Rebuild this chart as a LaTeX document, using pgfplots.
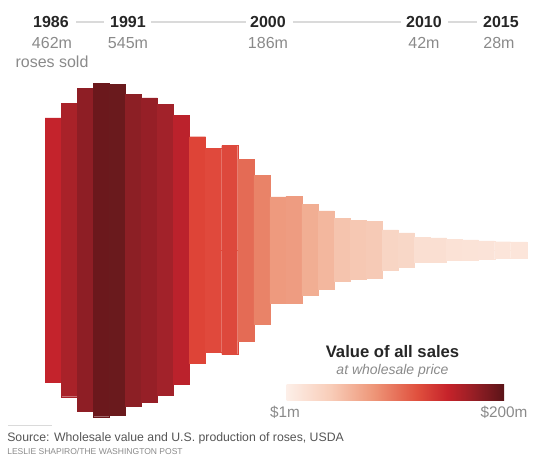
\documentclass[border=0pt]{standalone}
\usepackage{pgfplots}
\pgfplotsset{compat=1.18}
\usepackage{fontspec}
\setmainfont{Liberation Sans}
\definecolor{b0}{HTML}{C4232C}
\definecolor{b1}{HTML}{A92229}
\definecolor{b2}{HTML}{8E1E25}
\definecolor{b3}{HTML}{6B181C}
\definecolor{b4}{HTML}{6A1A1D}
\definecolor{b5}{HTML}{8C1F25}
\definecolor{b6}{HTML}{961F27}
\definecolor{b7}{HTML}{A2222A}
\definecolor{b8}{HTML}{BB222C}
\definecolor{b9}{HTML}{DE4437}
\definecolor{b10}{HTML}{E0493C}
\definecolor{b11}{HTML}{DD483C}
\definecolor{b12}{HTML}{E46B55}
\definecolor{b13}{HTML}{E98368}
\definecolor{b14}{HTML}{EE9A7E}
\definecolor{b15}{HTML}{EE9C81}
\definecolor{b16}{HTML}{F1AE93}
\definecolor{b17}{HTML}{F3B79E}
\definecolor{b18}{HTML}{F5C4AE}
\definecolor{b19}{HTML}{F6C8B3}
\definecolor{b20}{HTML}{F6CAB6}
\definecolor{b21}{HTML}{F8D5C4}
\definecolor{b22}{HTML}{F8D7C7}
\definecolor{b23}{HTML}{FADFD2}
\definecolor{b24}{HTML}{FADFD2}
\definecolor{b25}{HTML}{FBE2D6}
\definecolor{b26}{HTML}{FBE3D7}
\definecolor{b27}{HTML}{FBE3D8}
\definecolor{b28}{HTML}{FCE5DA}
\definecolor{b29}{HTML}{FCE5DA}
\definecolor{ydark}{HTML}{262626}
\definecolor{vgray}{HTML}{8A8A8A}
\definecolor{lgray}{HTML}{DADADA}
\definecolor{sgray}{HTML}{555555}
\pgfdeclarehorizontalshading{roseshade}{100bp}{rgb(0bp)=(0.992,0.937,0.910); rgb(25bp)=(0.992,0.937,0.910); rgb(35bp)=(0.973,0.804,0.725); rgb(45bp)=(0.933,0.588,0.471); rgb(55bp)=(0.878,0.314,0.243); rgb(62bp)=(0.776,0.137,0.165); rgb(68bp)=(0.588,0.118,0.145); rgb(75bp)=(0.353,0.078,0.094); rgb(100bp)=(0.353,0.078,0.094)}
\begin{document}
\begin{tikzpicture}
\path[use as bounding box] (0,0) rectangle (405pt,342pt);
\begin{axis}[at={(0,0)}, anchor=south west, scale only axis,
  width=405pt, height=342pt,
  xmin=1982.698, xmax=2016.322, ymin=-360.1, ymax=437,
  hide axis, clip=false,
  rb/.style={ybar, bar width=1, bar shift=0pt, fill=#1, draw=#1, line width=0.2pt}]
\addplot[rb=b0]  coordinates {(1986,231) (1986,-231)};
\addplot[rb=b1]  coordinates {(1987,256.5) (1987,-256.5)};
\addplot[rb=b2]  coordinates {(1988,282.5) (1988,-282.5)};
\addplot[rb=b3]  coordinates {(1989,291.5) (1989,-291.5)};
\addplot[rb=b4]  coordinates {(1990,289.5) (1990,-289.5)};
\addplot[rb=b5]  coordinates {(1991,272.5) (1991,-272.5)};
\addplot[rb=b6]  coordinates {(1992,266) (1992,-266)};
\addplot[rb=b7]  coordinates {(1993,254.5) (1993,-254.5)};
\addplot[rb=b8]  coordinates {(1994,235) (1994,-235)};
\addplot[rb=b9]  coordinates {(1995,198) (1995,-198)};
\addplot[rb=b10] coordinates {(1996,178) (1996,-178)};
\addplot[rb=b11] coordinates {(1997,182.5) (1997,-182.5)};
\addplot[rb=b12] coordinates {(1998,159) (1998,-159)};
\addplot[rb=b13] coordinates {(1999,130) (1999,-130)};
\addplot[rb=b14] coordinates {(2000,93) (2000,-93)};
\addplot[rb=b15] coordinates {(2001,93.5) (2001,-93.5)};
\addplot[rb=b16] coordinates {(2002,79.5) (2002,-79.5)};
\addplot[rb=b17] coordinates {(2003,68.5) (2003,-68.5)};
\addplot[rb=b18] coordinates {(2004,55) (2004,-55)};
\addplot[rb=b19] coordinates {(2005,51.5) (2005,-51.5)};
\addplot[rb=b20] coordinates {(2006,50) (2006,-50)};
\addplot[rb=b21] coordinates {(2007,35) (2007,-35)};
\addplot[rb=b22] coordinates {(2008,30) (2008,-30)};
\addplot[rb=b23] coordinates {(2009,22) (2009,-22)};
\addplot[rb=b24] coordinates {(2010,21) (2010,-21)};
\addplot[rb=b25] coordinates {(2011,18.5) (2011,-18.5)};
\addplot[rb=b26] coordinates {(2012,17.5) (2012,-17.5)};
\addplot[rb=b27] coordinates {(2013,16) (2013,-16)};
\addplot[rb=b28] coordinates {(2014,14.5) (2014,-14.5)};
\addplot[rb=b29] coordinates {(2015,14) (2015,-14)};
\end{axis}
\begin{scope}[x=0.75pt, y=-0.75pt, shift={(0pt,342pt)}]
% connector lines
\draw[lgray, line width=0.8pt] (76,22) -- (104,22);
\draw[lgray, line width=0.8pt] (151,22) -- (246,22);
\draw[lgray, line width=0.8pt] (293,22) -- (401,22);
\draw[lgray, line width=0.8pt] (448,22) -- (477,22);
% years
\begin{scope}[every node/.style={font=\fontsize{12}{14}\selectfont\bfseries, text=ydark, inner sep=0}]
\node at (51,22) {1986};
\node at (128,22) {1991};
\node at (268,22) {2000};
\node at (424,22) {2010};
\node at (501,22) {2015};
\end{scope}
\begin{scope}[every node/.style={font=\fontsize{12}{14}\selectfont, text=vgray, inner sep=0}]
\node at (52,43) {462m};
\node at (128,43) {545m};
\node at (268,43) {186m};
\node at (424,43) {42m};
\node at (499,43) {28m};
\node at (52,62) {roses sold};
\end{scope}
% legend
\node[font=\fontsize{12.5}{14}\selectfont\bfseries, text=ydark, inner sep=0] at (392.5,352) {Value of all sales};
\node[font=\fontsize{10.5}{12}\selectfont\itshape, text=vgray, inner sep=0] at (392.5,371) {at wholesale price};
\shade[shading=roseshade] (286.7,385) rectangle (504,400.7);
\node[font=\fontsize{11.5}{13}\selectfont, text=vgray, inner sep=0] at (285,412) {\$1m};
\node[font=\fontsize{11.5}{13}\selectfont, text=vgray, inner sep=0] at (504,412) {\$200m};
% source
\draw[lgray, line width=0.8pt] (8,425.7) -- (52,425.7);
\node[anchor=west, font=\fontsize{9.2}{11}\selectfont, text=sgray, inner sep=0] at (7,438) {Source: Wholesale value and U.S. production of roses, USDA};
\node[anchor=west, font=\fontsize{6.4}{8}\selectfont, text=vgray, inner sep=0] at (7,451.5) {LESLIE SHAPIRO/THE WASHINGTON POST};
\end{scope}
\end{tikzpicture}
\end{document}
